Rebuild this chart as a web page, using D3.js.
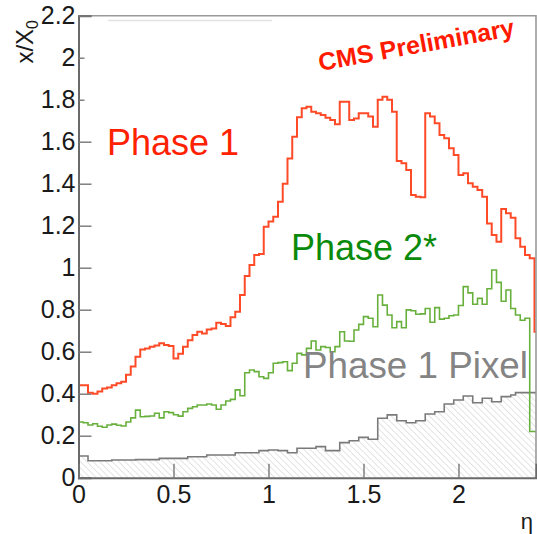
<!DOCTYPE html>
<html>
<head>
<meta charset="utf-8">
<script src="https://cdn.jsdelivr.net/npm/d3@7"></script>
<style>
  html, body { margin: 0; padding: 0; background: #fff; }
  svg { display: block; font-family: "Liberation Sans", Arial, Helvetica, sans-serif; }
</style>
</head>
<body>
<svg id="chart" width="537" height="534"></svg>
<script>
// Material budget x/X0 versus pseudorapidity, histograms with bins of 0.025 in eta
const etaBinWidth = 0.025;

// Phase 1 (full tracker)
const phase1 = [
  0.44, 0.44, 0.405, 0.40, 0.41, 0.425, 0.43, 0.44, 0.45, 0.457,
  0.49, 0.53, 0.576, 0.61, 0.615, 0.624, 0.63, 0.64, 0.632, 0.627,
  0.568, 0.59, 0.624, 0.655, 0.68, 0.695, 0.687, 0.706, 0.711, 0.738,
  0.732, 0.722, 0.764, 0.79, 0.87, 0.96, 1.013, 1.06, 1.065, 1.195,
  1.22, 1.243, 1.314, 1.40, 1.52, 1.624, 1.716, 1.759, 1.767, 1.743,
  1.735, 1.727, 1.714, 1.703, 1.683, 1.79, 1.79, 1.703, 1.711, 1.735,
  1.735, 1.72, 1.671, 1.80, 1.814, 1.80, 1.743, 1.508, 1.497, 1.465,
  1.346, 1.338, 1.335, 1.735, 1.72, 1.688, 1.632, 1.616, 1.569, 1.537,
  1.441, 1.45, 1.402, 1.386, 1.37, 1.338, 1.211, 1.156, 1.124, 1.28,
  1.259, 1.238, 1.14, 1.10, 1.06, 1.045, 0.695
];

// Phase 2* tracker
const phase2 = [
  0.265, 0.262, 0.251, 0.257, 0.245, 0.24, 0.251, 0.255, 0.25, 0.246,
  0.265, 0.285, 0.322, 0.29, 0.292, 0.294, 0.307, 0.285, 0.314, 0.31,
  0.30, 0.293, 0.314, 0.33, 0.338, 0.346, 0.346, 0.351, 0.346, 0.326,
  0.346, 0.365, 0.373, 0.418, 0.39, 0.50, 0.513, 0.505, 0.481, 0.473,
  0.50, 0.545, 0.548, 0.552, 0.51, 0.545, 0.592, 0.585, 0.616, 0.651,
  0.608, 0.624, 0.62, 0.60, 0.624, 0.695, 0.651, 0.65, 0.703, 0.73,
  0.767, 0.759, 0.719, 0.87, 0.822, 0.775, 0.714, 0.743, 0.714, 0.799,
  0.795, 0.778, 0.78, 0.806, 0.74, 0.81, 0.755, 0.759, 0.771, 0.775,
  0.82, 0.91, 0.88, 0.826, 0.854, 0.826, 0.90, 0.989, 0.93, 0.84,
  0.894, 0.806, 0.775, 0.75, 0.759, 0.22, 0.22
];

// Phase 1 pixel detector only
const phase1Pixel = [
  0.103, 0.103, 0.081, 0.081, 0.081, 0.081, 0.081, 0.084, 0.084, 0.084,
  0.084, 0.084, 0.086, 0.086, 0.086, 0.086, 0.086, 0.092, 0.092, 0.092,
  0.092, 0.092, 0.092, 0.10, 0.10, 0.10, 0.10, 0.108, 0.108, 0.108,
  0.108, 0.108, 0.108, 0.119, 0.119, 0.119, 0.119, 0.119, 0.129, 0.129,
  0.132, 0.132, 0.129, 0.129, 0.119, 0.119, 0.14, 0.14, 0.14, 0.14,
  0.148, 0.148, 0.129, 0.129, 0.129, 0.167, 0.167, 0.176, 0.176, 0.192,
  0.192, 0.183, 0.183, 0.283, 0.283, 0.299, 0.299, 0.271, 0.271, 0.262,
  0.262, 0.271, 0.271, 0.303, 0.303, 0.314, 0.314, 0.351, 0.351, 0.37,
  0.37, 0.389, 0.389, 0.357, 0.357, 0.378, 0.378, 0.362, 0.362, 0.386,
  0.386, 0.394, 0.405, 0.405, 0.405, 0.405, 0.405
];

const yTickValues = [0, 0.2, 0.4, 0.6, 0.8, 1, 1.2, 1.4, 1.6, 1.8, 2, 2.2];
const yTickLabels = ["0", "0.2", "0.4", "0.6", "0.8", "1", "1.2", "1.4", "1.6", "1.8", "2", "2.2"];
const xTickValues = [0, 0.5, 1, 1.5, 2];
const xTickLabels = ["0", "0.5", "1", "1.5", "2"];

const svg = d3.select("#chart");
const frameLeft = 78.5, frameRight = 536, frameTop = 15.7, frameBottom = 477.7;

const x = d3.scaleLinear().domain([0, 2.408]).range([frameLeft, frameRight]);
const y = d3.scaleLinear().domain([0, 2.2]).range([frameBottom, frameTop]);

const defs = svg.append("defs");
defs.append("clipPath").attr("id", "frame")
  .append("rect").attr("x", frameLeft).attr("y", frameTop - 2)
  .attr("width", frameRight - frameLeft).attr("height", frameBottom - frameTop + 2);

// diagonal hatching running from upper left to lower right
const hatch = defs.append("pattern").attr("id", "hatch")
  .attr("patternUnits", "userSpaceOnUse")
  .attr("width", 4.5).attr("height", 4.5)
  .attr("patternTransform", "rotate(-45)");
hatch.append("line").attr("x1", 0).attr("y1", 0).attr("x2", 0).attr("y2", 4.5)
  .attr("stroke", "#c4c4c4").attr("stroke-width", 0.9);

// step points: one per bin low edge plus the closing edge
function stepPoints(values) {
  const pts = values.map((v, i) => [i * etaBinWidth, v]);
  pts.push([values.length * etaBinWidth, values[values.length - 1]]);
  return pts;
}

const stepLine = d3.line().x(d => x(d[0])).y(d => y(d[1])).curve(d3.curveStepAfter);
const stepArea = d3.area().x(d => x(d[0])).y0(y(0)).y1(d => y(d[1])).curve(d3.curveStepAfter);

const plot = svg.append("g").attr("clip-path", "url(#frame)");

plot.append("path").datum(stepPoints(phase1Pixel))
  .attr("d", stepArea).attr("fill", "url(#hatch)");

plot.append("path").datum(stepPoints(phase1Pixel))
  .attr("d", stepLine).attr("fill", "none")
  .attr("stroke", "#7a7a7a").attr("stroke-width", 1.6);

plot.append("path").datum(stepPoints(phase2))
  .attr("d", stepLine).attr("fill", "none")
  .attr("stroke", "#68b03c").attr("stroke-width", 1.6);

plot.append("path").datum(stepPoints(phase1))
  .attr("d", stepLine).attr("fill", "none")
  .attr("stroke", "#ff4a28").attr("stroke-width", 2);

// faint line near the top of the frame
svg.append("line").attr("x1", 108).attr("x2", 272).attr("y1", 20.5).attr("y2", 20.5)
  .attr("stroke", "#e2e2e2").attr("stroke-width", 1.5);

// labels
svg.append("text").attr("x", 107).attr("y", 155)
  .attr("font-size", 36).attr("fill", "#ff2200").text("Phase 1");
svg.append("text").attr("x", 291).attr("y", 260)
  .attr("font-size", 36).attr("fill", "#0a8a0a").text("Phase 2*");
svg.append("text").attr("x", 303).attr("y", 378)
  .attr("font-size", 36.8).attr("fill", "#848484").text("Phase 1 Pixel");
svg.append("text")
  .attr("transform", "translate(320,71) rotate(-10.3)")
  .attr("font-size", 25).attr("font-weight", "bold").attr("fill", "#ff1a00")
  .text("CMS Preliminary");

// frame: top and right
svg.append("path")
  .attr("d", `M${frameLeft},${frameTop}H${frameRight}V${frameBottom}`)
  .attr("fill", "none").attr("stroke", "#9a9a9a").attr("stroke-width", 1.6);

// y axis
const yAxis = svg.append("g").attr("transform", `translate(${frameLeft},0)`)
  .call(d3.axisLeft(y).tickValues(yTickValues).tickSize(-13)
    .tickFormat((d, i) => yTickLabels[i]).tickPadding(3));
yAxis.select(".domain").attr("stroke", "#6a6a6a").attr("stroke-width", 2);
yAxis.selectAll(".tick line").attr("stroke", "#777").attr("stroke-width", 1.4)
  .attr("x2", d => (d >= 1.7 && d < 2.1) ? 6 : 13);
yAxis.selectAll(".tick text").attr("font-size", 25).attr("fill", "#1a1a1a")
  .attr("font-family", "Liberation Sans, Arial, sans-serif");

// x axis
const xAxis = svg.append("g").attr("transform", `translate(0,${frameBottom})`)
  .call(d3.axisBottom(x).tickValues(xTickValues).tickSize(-14)
    .tickFormat((d, i) => xTickLabels[i]).tickPadding(8));
xAxis.select(".domain").attr("stroke", "#6a6a6a").attr("stroke-width", 2);
xAxis.selectAll(".tick line").attr("stroke", "#777").attr("stroke-width", 1.4);
xAxis.selectAll(".tick text").attr("font-size", 25).attr("fill", "#1a1a1a")
  .attr("font-family", "Liberation Sans, Arial, sans-serif");

// axis titles
const yTitle = svg.append("text")
  .attr("transform", "translate(33,20) rotate(-90)")
  .attr("text-anchor", "end").attr("font-size", 24).attr("fill", "#1a1a1a");
yTitle.append("tspan").text("x/X");
yTitle.append("tspan").attr("font-size", 16).attr("dy", 5).text("0");

svg.append("text").attr("x", 533).attr("y", 529)
  .attr("text-anchor", "end").attr("font-size", 22).attr("fill", "#1a1a1a").text("η");
</script>
</body>
</html>
